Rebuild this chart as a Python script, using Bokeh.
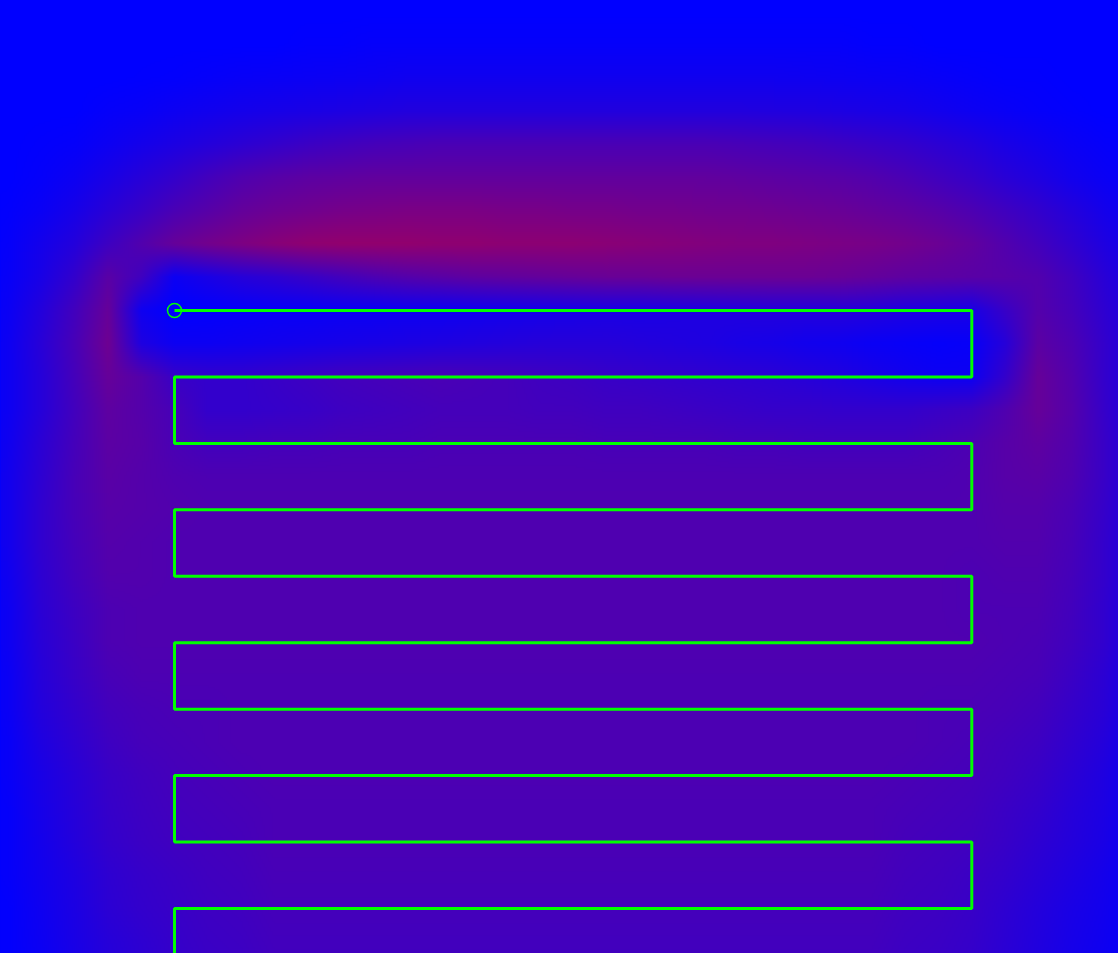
import numpy as np
from bokeh.plotting import figure
from bokeh.models import Range1d, LinearColorMapper
from bokeh.embed import file_html
from bokeh.resources import INLINE

# ---- heat field (value 0 = blue, 1 = red) ----
# grid cell centres: x = -3 .. 15 step 0.5 (37 columns), y = 5 .. -10 step 0.5 (31 rows, top to bottom)
grid_x = [-3 + 0.5 * j for j in range(37)]
grid_y = [5 - 0.5 * i for i in range(31)]

heat_rows = [
    [0] * 37,
    [0] * 37,
    [0] * 10 + [.01, .01] + [.02] * 15 + [.01, .01] + [0] * 8,
    [0, 0, 0, 0, 0, .005, .01, .02, .03, .035, .04, .045, .05] + [.06] * 12 + [.055, .05, .045, .04, .03, .02, .01, .01, 0, 0, 0, 0],
    [0, 0, 0, 0, .02, .03, .05, .065, .08, .09, .1, .11, .12] + [.13] * 11 + [.125, .12, .11, .1, .09, .07, .05, .035, .02, .01, 0, 0, 0],
    [0, 0, .01, .02, .05, .08, .11, .14, .17, .2, .23, .25, .27, .28] + [.29] * 9 + [.28, .27, .26, .24, .22, .2, .17, .14, .1, .07, .04, .02, .01, 0],
    [0, 0, .02, .05, .1, .15, .2, .26, .31, .34, .36, .37] + [.38] * 11 + [.37, .36, .35, .34, .32, .29, .25, .21, .16, .12, .07, .04, .02, 0],
    [0, .01, .04, .09, .16, .22, .29, .34, .39, .42, .44, .46, .47, .48, .48, .48, .47, .47, .46, .46, .45, .45, .44, .44, .43, .42, .41, .39, .37, .34, .3, .25, .2, .14, .08, .04, .01],
    [0, .02, .08, .14, .24, .32, .4, .45, .49, .53, .56, .57, .57, .57, .56, .56, .55, .55, .55, .54, .53, .52, .51, .5, .5, .49, .48, .47, .45, .42, .38, .32, .26, .19, .12, .06, .02],
    [0, .03, .1, .2, .35, .25, .05, .1, .15, .18, .22, .26, .3, .33, .35, .37, .38, .39, .4, .41, .41, .42, .42, .42, .42, .42, .41, .39, .37, .36, .35, .34, .32, .25, .16, .08, .03],
    [0, .04, .14, .26, .4, .06, 0, .01, .02, .03, .03, .04, .04, .05, .05, .06, .07, .08, .09, .1, .1, .11, .12, .13, .14, .14, .15, .14, .12, .11, .1, .22, .33, .27, .18, .1, .05],
    [0, .05, .16, .28, .43, .12, .05, .05, .06, .07, .08, .09, .1, .11, .12, .13, .14, .15, .15, .15, .14, .13, .12, .1, .09, .07, .06, .04, .03, .02, .03, .15, .36, .3, .2, .1, .05],
    [0, .05, .15, .27, .4, .33, .22, .2, .2, .22, .24, .26, .27, .28, .29, .28, .27, .25, .24, .22, .21, .2, .19, .18, .17, .15, .13, .1, .07, .05, .05, .2, .4, .32, .2, .1, .05],
    [0, .05, .15, .26, .37, .33, .28, .2, .2, .21, .22, .24, .25, .26, .27, .27, .27, .26, .26, .25, .25, .24, .23, .22, .21, .21, .2, .2, .2, .22, .24, .31, .4, .33, .21, .1, .05],
    [0, .06, .17, .27, .36, .34, .29, .26, .26, .27, .27, .28, .28, .28, .29, .29, .29, .29, .29, .28, .28, .28, .28, .27, .27, .26, .26, .26, .26, .28, .3, .34, .37, .32, .22, .11, .05],
    [0, .07, .18, .28, .35, .33, .31] + [.3] * 23 + [.31, .34, .35, .31, .22, .11, .05],
    [0, .07, .19, .28, .34, .33, .32] + [.31] * 23 + [.31, .33, .33, .29, .21, .1, .05],
    [0, .07, .19, .27, .33, .32, .31] + [.31] * 23 + [.31, .32, .32, .28, .2, .1, .04],
    [0, .06, .18, .26, .32, .32, .31] + [.31] * 23 + [.3, .31, .31, .27, .2, .09, .04],
    [0, .05, .17, .24, .3, .31, .31] + [.31] * 23 + [.3, .3, .3, .26, .19, .09, .04],
    [0, .05, .16, .23, .3, .31, .31] + [.31] * 23 + [.31, .3, .29, .25, .19, .08, .03],
    [0, .04, .15, .22, .28, .3, .3] + [.3] * 23 + [.3, .29, .28, .23, .17, .07, .03],
    [0, .04, .14, .2, .26, .28, .29] + [.29] + [.3] * 21 + [.29] + [.29, .28, .26, .21, .16, .06, .02],
    [0, .03, .12, .18, .24, .27, .28] + [.29] + [.3] * 21 + [.29] + [.28, .26, .24, .19, .14, .05, .02],
    [0, .03, .1, .16, .22, .25, .27] + [.28, .29] + [.3] * 19 + [.29, .28] + [.27, .25, .22, .17, .12, .04, .01],
    [0, .02, .09, .15, .21, .24, .26] + [.27, .28] + [.29] * 19 + [.28, .27] + [.26, .23, .2, .15, .11, .04, .01],
    [0, .02, .08, .14, .2, .23, .25] + [.26, .27] + [.29] * 19 + [.27, .26] + [.25, .22, .18, .14, .1, .03, .01],
    [0, .02, .07, .12, .18, .21, .23] + [.25, .26] + [.28] * 19 + [.26, .25] + [.23, .2, .16, .12, .08, .03, 0],
    [0, .01, .06, .11, .17, .2, .22] + [.24, .25] + [.27] * 19 + [.25, .24] + [.22, .18, .14, .1, .07, .02, 0],
    [0, .01, .05, .1, .15, .18, .21] + [.23, .24] + [.26] * 19 + [.24, .23] + [.21, .17, .13, .09, .06, .02, 0],
    [0, .01, .04, .09, .14, .17, .2] + [.22, .23] + [.25] * 19 + [.23, .22] + [.2, .16, .12, .08, .05, .01, 0],
]

# ---- serpentine path ----
path_x = [0, 12, 12, 0, 0, 12, 12, 0, 0, 12, 12, 0, 0, 12, 12, 0, 0, 12, 12, 0, 0, 12]
path_y = [0, 0, -1, -1, -2, -2, -3, -3, -4, -4, -5, -5, -6, -6, -7, -7, -8, -8, -9, -9, -10, -10]
start_x = [0]
start_y = [0]

X0, X1 = -2.619, 14.208
Y0, Y1 = -9.678, 4.666
W, H = 1118, 953

palette = ["#%02x00%02x" % (i, 255 - i) for i in range(256)]
mapper = LinearColorMapper(palette=palette, low=0, high=1)

p = figure(width=W, height=H, output_backend="svg", toolbar_location=None,
           x_range=Range1d(X0, X1), y_range=Range1d(Y0, Y1),
           min_border=0, x_axis_location=None, y_axis_location=None)
p.grid.visible = False
p.outline_line_color = None
p.background_fill_color = "#0000ff"
p.border_fill_color = "#0000ff"
p.styles = {"background-color": "#0000ff"}

# smooth shading of the read grid (bilinear, for display only)
grid = np.array(heat_rows, dtype=float)[::-1]          # rows bottom -> top
gy = np.array(grid_y[::-1])
gx = np.array(grid_x)
nx, ny = W // 2, H // 2 + 1
fx = X0 + (np.arange(nx) + 0.5) * (X1 - X0) / nx
fy = Y0 + (np.arange(ny) + 0.5) * (Y1 - Y0) / ny
along_x = np.array([np.interp(fx, gx, r) for r in grid])
shade = np.array([np.interp(fy, gy, along_x[:, k]) for k in range(nx)]).T.astype(np.float32)

# draw slightly past the frame so no edge seam shows
pad_x = (X1 - X0) / nx
pad_y = (Y1 - Y0) / ny
shade = np.pad(shade, 1, mode="edge")
p.image(image=[shade], x=X0 - pad_x, y=Y0 - pad_y, dw=X1 - X0 + 2 * pad_x,
        dh=Y1 - Y0 + 2 * pad_y, color_mapper=mapper)

p.line(path_x, path_y, line_color="#00ff00", line_width=3)
p.scatter(start_x, start_y, marker="circle", size=14, fill_alpha=0,
          line_color="#00ff00", line_width=1.5)

open("out.html", "w").write(file_html(p, INLINE))
